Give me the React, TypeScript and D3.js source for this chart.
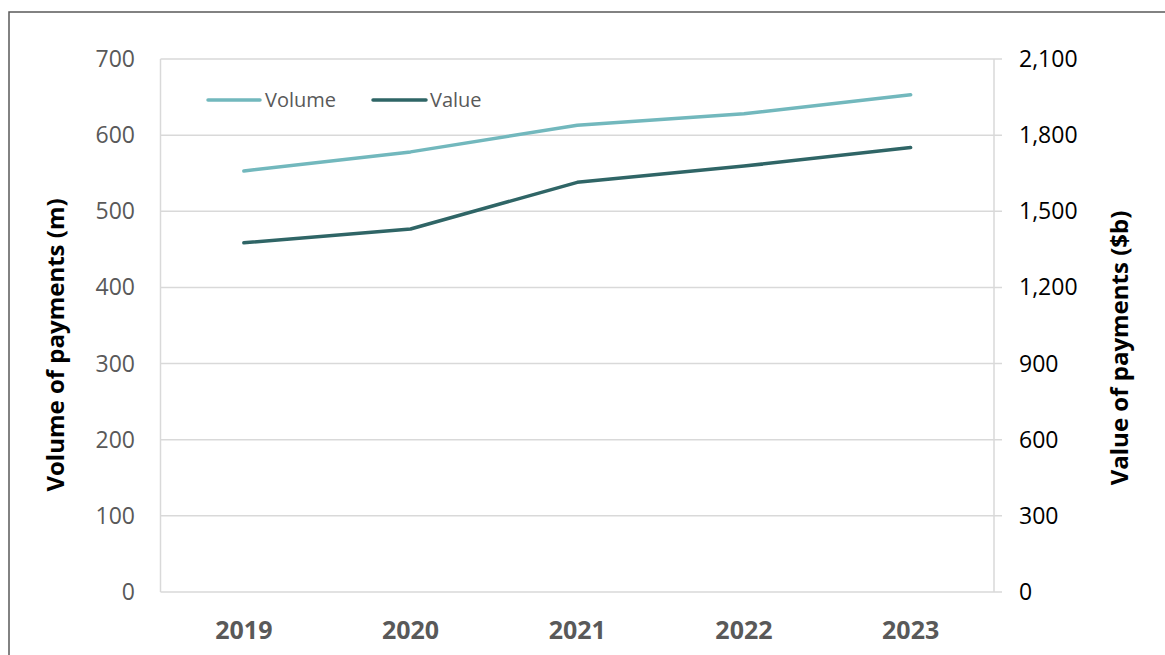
import React from "react";
import * as d3 from "d3";

// Payments data, 2019–2023
const years = ["2019", "2020", "2021", "2022", "2023"];
const volumeM = [553, 578, 613, 628, 653];
const valueB = [1376, 1430, 1614, 1678, 1751];
const leftTicks = [0, 100, 200, 300, 400, 500, 600, 700];
const rightTicks = [0, 300, 600, 900, 1200, 1500, 1800, 2100];

const W = 1165;
const H = 655;
const plot = { left: 160.5, right: 994, top: 59, bottom: 592 };

const VOLUME_COLOR = "#72b8bd";
const VALUE_COLOR = "#2f6566";
const GRID = "#d9d9d9";
const FONT = "'Open Sans', 'Noto Sans', sans-serif";

export default function App() {
  const x = d3.scaleBand<string>().domain(years).range([plot.left, plot.right]);
  const yL = d3.scaleLinear().domain([0, 700]).range([plot.bottom, plot.top]);
  const yR = d3.scaleLinear().domain([0, 2100]).range([plot.bottom, plot.top]);
  const cx = (d: string) => (x(d) ?? 0) + x.bandwidth() / 2;

  const volLine = d3
    .line<number>()
    .x((_, i) => cx(years[i]))
    .y((d) => yL(d));
  const valLine = d3
    .line<number>()
    .x((_, i) => cx(years[i]))
    .y((d) => yR(d));

  const fmt = d3.format(",");

  return (
    <svg
      width={W}
      height={H}
      style={{ position: "absolute", left: 0, top: 0, background: "#fff" }}
    >
      {/* outer frame */}
      <rect x={9} y={12} width={W} height={H} fill="none" stroke="#595959" strokeWidth={1.5} />

      {/* horizontal gridlines with right-side tick stubs */}
      {leftTicks.map((t) => (
        <line
          key={"g" + t}
          x1={plot.left}
          x2={plot.right + 8}
          y1={yL(t)}
          y2={yL(t)}
          stroke={GRID}
          strokeWidth={1.5}
        />
      ))}
      {/* left and right axis lines */}
      <line x1={plot.left} x2={plot.left} y1={plot.top} y2={plot.bottom} stroke={GRID} strokeWidth={1.5} />
      <line x1={plot.right} x2={plot.right} y1={plot.top} y2={plot.bottom} stroke={GRID} strokeWidth={1.5} />

      {/* left tick labels */}
      {leftTicks.map((t) => (
        <text
          key={"l" + t}
          x={135}
          y={yL(t)}
          dy="0.35em"
          textAnchor="end"
          fontFamily={FONT}
          fontSize={23}
          fill="#595959"
        >
          {t}
        </text>
      ))}

      {/* right tick labels */}
      {rightTicks.map((t) => (
        <text
          key={"r" + t}
          x={1019}
          y={yR(t)}
          dy="0.35em"
          textAnchor="start"
          fontFamily={FONT}
          fontSize={23}
          fill="#000"
        >
          {fmt(t)}
        </text>
      ))}

      {/* category labels */}
      {years.map((yr) => (
        <text
          key={"x" + yr}
          x={cx(yr)}
          y={639}
          textAnchor="middle"
          fontFamily={FONT}
          fontWeight={700}
          fontSize={25}
          fill="#595959"
        >
          {yr}
        </text>
      ))}

      {/* axis titles */}
      <text
        transform="translate(64,345) rotate(-90)"
        textAnchor="middle"
        fontFamily={FONT}
        fontWeight={700}
        fontSize={24}
        fill="#000"
      >
        Volume of payments (m)
      </text>
      <text
        transform="translate(1128,348) rotate(-90)"
        textAnchor="middle"
        fontFamily={FONT}
        fontWeight={700}
        fontSize={24}
        fill="#000"
      >
        Value of payments ($b)
      </text>

      {/* series */}
      <path d={volLine(volumeM) ?? ""} fill="none" stroke={VOLUME_COLOR} strokeWidth={3.5} strokeLinecap="round" strokeLinejoin="round" />
      <path d={valLine(valueB) ?? ""} fill="none" stroke={VALUE_COLOR} strokeWidth={3.5} strokeLinecap="round" strokeLinejoin="round" />

      {/* legend */}
      <line x1={208} x2={260} y1={100} y2={100} stroke={VOLUME_COLOR} strokeWidth={3.5} strokeLinecap="round" />
      <text x={265} y={100} dy="0.35em" fontFamily={FONT} fontSize={20} fill="#595959">
        Volume
      </text>
      <line x1={373} x2={426} y1={100} y2={100} stroke={VALUE_COLOR} strokeWidth={3.5} strokeLinecap="round" />
      <text x={430} y={100} dy="0.35em" fontFamily={FONT} fontSize={20} fill="#595959">
        Value
      </text>
    </svg>
  );
}
